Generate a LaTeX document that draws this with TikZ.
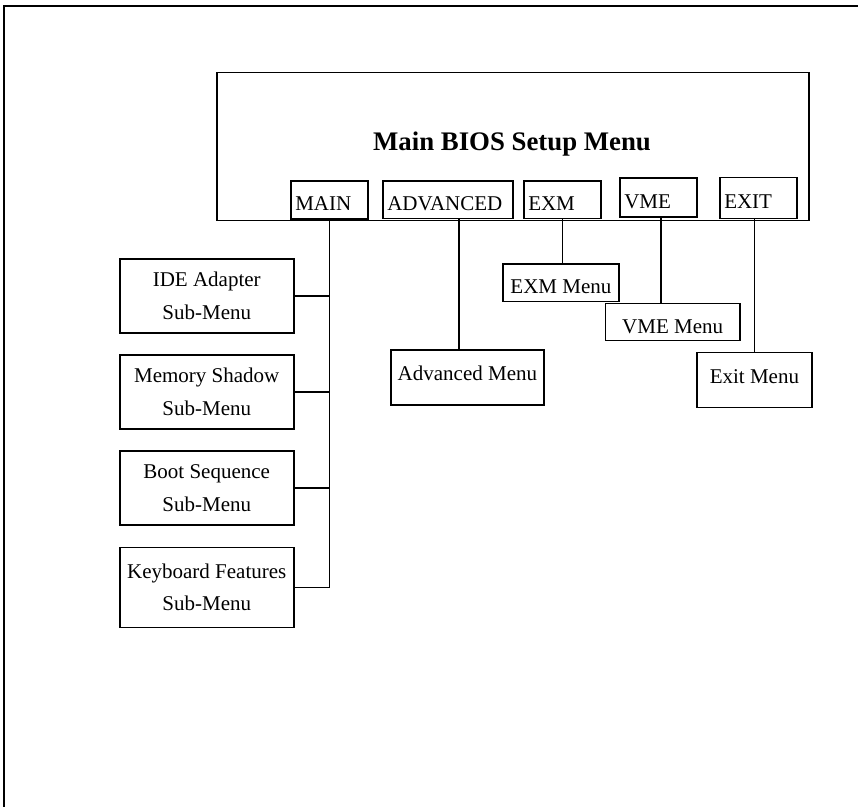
\documentclass[tikz,border=0pt]{standalone}
\usepackage{fontspec}
\setmainfont{Liberation Serif}
\usepackage{tikz}
\tikzset{
    frame/.style={line width=0.95pt},
    box/.style={draw, line width=0.75pt, inner sep=0pt, font=\fontsize{10.5}{16.35}\selectfont},
    tab/.style n args={3}{box, anchor=south west, inner xsep=2.25pt, inner ysep=0pt, align=left,
        text width=#1, text height=#2, text depth=#3},
    submenu/.style={box, anchor=north west, minimum width=87pt, minimum height=37pt, align=center},
    menu/.style={box, anchor=north west},
    wire/.style={line width=0.75pt}
}

\begin{document}
\begin{tikzpicture}[x=0.5pt, y=-0.5pt]
    \useasboundingbox (0,0) rectangle (858,807);
    \draw[frame] (4,807) -- (4,6) -- (858,6);
    \node[box, anchor=north west, minimum width=296pt, minimum height=74pt] (setup) at (216,72) {};
    \node[font=\bfseries\fontsize{13.4}{16}\selectfont, anchor=base] (title) at (512,151) {Main BIOS Setup Menu};
    \node[tab={34pt}{14.9pt}{4.25pt}] (maintab) at (290,220) {MAIN};
    \node[tab={60.5pt}{14.65pt}{4.25pt}] (advtab) at (382,219.5) {ADVANCED};
    \node[tab={34pt}{14.5pt}{4.25pt}] (exmtab) at (523,219.5) {EXM};
    \node[tab={34pt}{15.15pt}{4.35pt}] (vmetab) at (619,218) {VME};
    \node[tab={34.2pt}{15.5pt}{5pt}] (exittab) at (719,219.3) {EXIT};
    % sub-menus of MAIN
    \node[submenu] (ide) at (119,258.3) {IDE Adapter\\Sub-Menu};
    \node[submenu] (mem) at (119,354.3) {Memory Shadow\\Sub-Menu};
    \node[submenu] (boot) at (119,450.3) {Boot Sequence\\Sub-Menu};
    \node[submenu, minimum height=40pt] (kbd) at (119,546.7) {Keyboard Features\\Sub-Menu};
    % menus of the other tabs
    \node[menu, minimum width=76.65pt, minimum height=27.5pt, text depth=3.9pt] (advmenu) at (390,349.3) {Advanced Menu};
    \node[menu, minimum width=57.85pt, minimum height=18.85pt, text height=10.7pt] (exmmenu) at (502.3,263.3) {EXM Menu};
    \node[menu, minimum width=67.25pt, minimum height=18.5pt, text height=11.8pt] (vmemenu) at (604.7,303) {VME Menu};
    \node[menu, minimum width=57.65pt, minimum height=27.35pt, text depth=4pt] (exitmenu) at (696,352) {Exit Menu};
    \coordinate (advdrop) at ([xshift=5.6pt]advtab.south);
    \coordinate (vmedrop) at ([xshift=1.25pt]vmetab.south);
    \draw[wire] (maintab.south) -- (maintab.south |- kbd.east) -- (kbd.east);
    \draw[wire] (ide.east) -- (ide.east -| maintab.south);
    \draw[wire] (mem.east) -- (mem.east -| maintab.south);
    \draw[wire] (boot.east) -- (boot.east -| maintab.south);
    \draw[wire] (advdrop) -- (advdrop |- advmenu.north);
    \draw[wire] (exmtab.south) -- (exmtab.south |- exmmenu.north);
    \draw[wire] (vmedrop) -- (vmedrop |- vmemenu.north);
    \draw[wire] (exitmenu.north |- exittab.south) -- (exitmenu.north);
\end{tikzpicture}
\end{document}
